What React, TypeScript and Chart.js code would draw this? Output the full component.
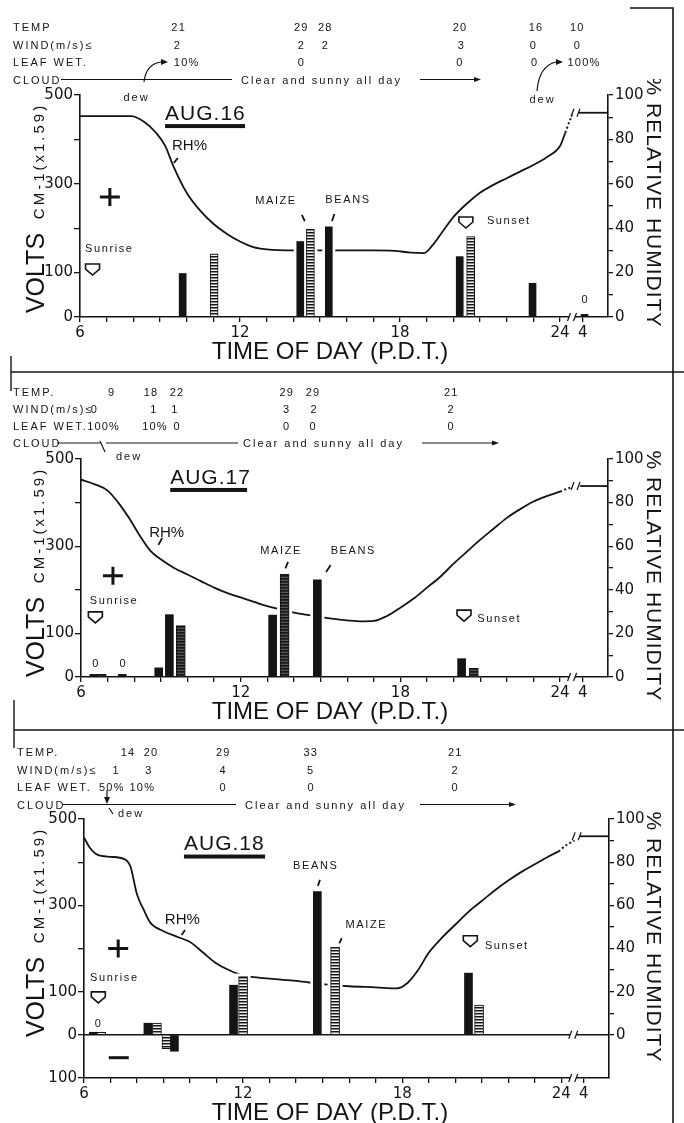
import React, { useEffect, useRef } from 'react';
import { Chart, registerables } from 'chart.js';

Chart.register(...registerables);

const SANS = "'Liberation Sans', Arial, Helvetica, sans-serif";
const WIDE = "'DejaVu Sans', Verdana, sans-serif";
const INK = '#141414';

// ---------------- axes ----------------
const X_MIN = 6;
const X_MAX = 25.8;
const HOUR_TICKS = [6, 7, 8, 9, 10, 11, 12, 13, 14, 15, 16, 17, 18, 19, 20, 21, 22, 23, 24, 24.85];
const HOUR_LABELS = ['6', '', '', '', '', '', '12', '', '', '', '', '', '18', '', '', '', '', '', '24', '4'];
const VOLT_TICKS = [0, 100, 200, 300, 400, 500];
const VOLT_LABELS = ['0', '100', '', '300', '', '500'];
const VOLT_TICKS_NEG = [-100, 0, 100, 200, 300, 400, 500];
const VOLT_LABELS_NEG = ['100', '0', '100', '', '300', '', '500'];
const RH_TICKS = [0, 10, 20, 30, 40, 50, 60, 70, 80, 90, 100];
const RH_LABELS = ['0', '', '20', '', '40', '', '60', '', '80', '', '100'];
const ROW_NAMES_16 = ['TEMP', 'WIND(m/s)≤', 'LEAF WET.', 'CLOUD'];
const ROW_NAMES = ['TEMP.', 'WIND(m/s)≤', 'LEAF WET.', 'CLOUD'];
const CLOUD_TEXT = 'Clear and sunny all day';

// ---------------- AUG. 16 ----------------
const AUG16_RH_HOURS = [6, 7.9, 8.4, 8.85, 9.2, 9.5, 10.0, 10.5, 11.0, 11.5, 12.0, 12.5, 13.0, 14.0, 15.0, 16.0, 17.0, 17.8, 18.4, 18.9, 19.2, 19.6, 20.0, 20.5, 21.0, 21.5, 22.0, 22.5, 23.0, 23.5, 24.0, 24.2];
const AUG16_RH = [90.5, 90.5, 88, 83, 77, 68, 56, 48, 42, 37.5, 34, 31.5, 30.5, 30, 30, 30, 30, 29.8, 29, 28.8, 32, 38.5, 45, 51, 56, 59.5, 62.5, 65.5, 68.5, 72, 77, 83];
const AUG16_DAWN_HOURS = [24.2, 24.35, 24.5];
const AUG16_DAWN = [83, 88, 92];
const AUG16_END_HOURS = [24.65, 25.8];
const AUG16_END = [92, 92];
const AUG16_BEANS_HOURS = [9.85, 14.26, 15.33, 20.24, 22.97, 24.92];
const AUG16_BEANS = [98, 170, 203, 136, 76, 6];
const AUG16_MAIZE_HOURS = [11.03, 14.64, 20.65];
const AUG16_MAIZE = [142, 198, 181];
const AUG16_TEMP = ['21', '29', '28', '20', '16', '10'];
const AUG16_TEMP_AT = [9.7, 14.3, 15.2, 20.25, 23.1, 24.65];
const AUG16_WIND = ['2', '2', '2', '3', '0', '0'];
const AUG16_WIND_AT = [9.65, 14.3, 15.2, 20.3, 23.0, 24.65];
const AUG16_LEAF = ['10%', '0', '0', '0', '100%'];
const AUG16_LEAF_AT = [10.0, 14.3, 20.25, 23.05, 24.9];

// ---------------- AUG. 17 ----------------
const AUG17_RH_HOURS = [6, 6.5, 7.0, 7.4, 7.8, 8.2, 8.6, 9.0, 9.5, 10.0, 10.5, 11.0, 11.5, 12.0, 12.5, 13.0, 13.5, 14.0, 14.5, 15.0, 15.5, 16.0, 16.5, 17.0, 17.5, 18.0, 18.5, 19.0, 19.5, 20.0, 20.5, 21.0, 21.5, 22.0, 22.5, 23.0, 23.5, 24.0];
const AUG17_RH = [90.5, 88.5, 85.5, 80, 73, 65, 58, 54, 50, 47, 44, 41, 38.5, 36.5, 34.5, 32.5, 31, 29.5, 28.5, 27.5, 26.7, 26, 25.5, 25.7, 28, 31.8, 36, 41, 46, 52, 57.5, 63, 68, 73, 77, 80.5, 83, 85];
const AUG17_DAWN_HOURS = [24.0, 24.3, 24.6];
const AUG17_DAWN = [85, 86.5, 87.6];
const AUG17_END_HOURS = [24.75, 25.8];
const AUG17_END = [87.6, 87.6];
const AUG17_BEANS_HOURS = [6.48, 7.55, 8.92, 9.32, 13.2, 14.88, 20.3];
const AUG17_BEANS = [6, 6, 21, 143, 142, 223, 42];
const AUG17_MAIZE_HOURS = [6.78, 9.75, 13.65, 20.76];
const AUG17_MAIZE = [6, 118, 236, 20];
const AUG17_TEMP = ['9', '18', '22', '29', '29', '21'];
const AUG17_TEMP_AT = [7.15, 8.63, 9.61, 13.73, 14.72, 19.91];
const AUG17_WIND = ['0', '1', '1', '3', '2', '2'];
const AUG17_WIND_AT = [6.5, 8.74, 9.53, 13.73, 14.76, 19.91];
const AUG17_LEAF = ['100%', '10%', '0', '0', '0', '0'];
const AUG17_LEAF_AT = [6.85, 8.78, 9.61, 13.73, 14.72, 19.91];

// ---------------- AUG. 18 ----------------
const AUG18_RH_HOURS = [6, 6.2, 6.5, 7.0, 7.5, 7.75, 8.0, 8.25, 8.5, 9.0, 9.5, 10.0, 10.5, 11.0, 11.5, 12.0, 13.0, 14.0, 15.0, 16.0, 17.0, 17.8, 18.2, 18.6, 19.0, 19.5, 20.0, 20.5, 21.0, 21.5, 22.0, 22.5, 23.0, 23.5, 23.9];
const AUG18_RH = [91.5, 87, 83.5, 82.5, 81.5, 78, 65, 58, 52, 48, 45.5, 43, 38, 33, 29.8, 27.5, 26, 25, 23.5, 22.5, 22, 21.5, 24, 30, 38, 45, 51, 57, 62, 67, 71.5, 75.5, 79, 82.5, 85];
const AUG18_DAWN_HOURS = [23.9, 24.2, 24.5];
const AUG18_DAWN = [85, 88, 90];
const AUG18_END_HOURS = [24.65, 25.8];
const AUG18_END = [92, 92];
const AUG18_BEANS_HOURS = [6.35, 8.41, 9.41, 11.64, 14.8, 20.5];
const AUG18_BEANS = [6, 27, -38, 115, 332, 143];
const AUG18_MAIZE_HOURS = [6.65, 8.75, 9.11, 12.0, 15.47, 20.9];
const AUG18_MAIZE = [6, 27, -32, 135, 203, 69];
const AUG18_TEMP = ['14', '20', '29', '33', '21'];
const AUG18_TEMP_AT = [7.66, 8.53, 11.25, 14.55, 20.0];
const AUG18_WIND = ['1', '3', '4', '5', '2'];
const AUG18_WIND_AT = [7.21, 8.45, 11.25, 14.55, 20.0];
const AUG18_LEAF = ['50%', '10%', '0', '0', '0'];
const AUG18_LEAF_AT = [7.05, 8.2, 11.25, 14.57, 20.0];

// ---------------- layout ----------------
const PAD_TOP = 16;
const XH = 52;

type Note =
  | { k: 'text'; h: number; v: number; t: string; size: number; align: CanvasTextAlign; sp?: number }
  | { k: 'tick'; h: number; v: number; h2: number; v2: number }
  | { k: 'plus' | 'minus' | 'marker'; h: number; v: number }
  | { k: 'underline'; h: number; h2: number; v: number };

type Panel = {
  L: number; R: number; T: number; B: number;
  vMin: number; rhMin: number; rTitle: number;
  rhHours: number[]; rh: number[]; dawnHours: number[]; dawn: number[]; endHours: number[]; end: number[];
  beansHours: number[]; beans: number[]; maizeHours: number[]; maize: number[];
  barW: number; dark: boolean; notes: Note[];
  rows: number[]; rowNames: string[]; x0: number;
  temp: string[]; tempAt: number[]; wind: string[]; windAt: number[]; leaf: string[]; leafAt: number[];
  cloudLines: number[][]; cloudTextX: number; cloudArrow: number[];
};

const PANELS: Panel[] = [
  {
    L: 80, R: 608, T: 95, B: 317, vMin: 0, rhMin: 0, rTitle: 107,
    rhHours: AUG16_RH_HOURS, rh: AUG16_RH, dawnHours: AUG16_DAWN_HOURS, dawn: AUG16_DAWN, endHours: AUG16_END_HOURS, end: AUG16_END,
    beansHours: AUG16_BEANS_HOURS, beans: AUG16_BEANS, maizeHours: AUG16_MAIZE_HOURS, maize: AUG16_MAIZE,
    barW: 8, dark: false,
    notes: [
      { k: 'text', h: 9.19, v: 443, t: 'AUG.16', size: 21, align: 'left', sp: 1 },
      { k: 'underline', h: 9.19, h2: 12.19, v: 430 },
      { k: 'text', h: 9.45, v: 376, t: 'RH%', size: 15, align: 'left' },
      { k: 'tick', h: 9.67, v: 358, h2: 9.52, v2: 347 },
      { k: 'plus', h: 7.12, v: 270 },
      { k: 'text', h: 6.19, v: 146, t: 'Sunrise', size: 11, align: 'left', sp: 1.6 },
      { k: 'marker', h: 6.47, v: 108 },
      { k: 'text', h: 13.35, v: 254, t: 'MAIZE', size: 11, align: 'center', sp: 1.6 },
      { k: 'tick', h: 14.32, v: 230, h2: 14.43, v2: 216 },
      { k: 'text', h: 16.05, v: 256, t: 'BEANS', size: 11, align: 'center', sp: 1.6 },
      { k: 'tick', h: 15.54, v: 232, h2: 15.45, v2: 216 },
      { k: 'marker', h: 20.47, v: 214 },
      { k: 'text', h: 21.26, v: 209, t: 'Sunset', size: 11, align: 'left', sp: 1.6 },
      { k: 'text', h: 24.92, v: 31, t: '0', size: 11, align: 'center' },
    ],
    rows: [27, 44.5, 62, 79.5], rowNames: ROW_NAMES_16, x0: 13,
    temp: AUG16_TEMP, tempAt: AUG16_TEMP_AT, wind: AUG16_WIND, windAt: AUG16_WIND_AT, leaf: AUG16_LEAF, leafAt: AUG16_LEAF_AT,
    cloudLines: [[61, 232]], cloudTextX: 241, cloudArrow: [420, 481],
  },
  {
    L: 81, R: 608, T: 459, B: 677, vMin: 0, rhMin: 0, rTitle: 117,
    rhHours: AUG17_RH_HOURS, rh: AUG17_RH, dawnHours: AUG17_DAWN_HOURS, dawn: AUG17_DAWN, endHours: AUG17_END_HOURS, end: AUG17_END,
    beansHours: AUG17_BEANS_HOURS, beans: AUG17_BEANS, maizeHours: AUG17_MAIZE_HOURS, maize: AUG17_MAIZE,
    barW: 9, dark: true,
    notes: [
      { k: 'text', h: 9.35, v: 443, t: 'AUG.17', size: 21, align: 'left', sp: 1 },
      { k: 'underline', h: 9.35, h2: 12.24, v: 429 },
      { k: 'text', h: 8.56, v: 321, t: 'RH%', size: 15, align: 'left' },
      { k: 'tick', h: 9.05, v: 319, h2: 8.91, v2: 303 },
      { k: 'plus', h: 7.2, v: 232 },
      { k: 'text', h: 6.33, v: 167, t: 'Sunrise', size: 11, align: 'left', sp: 1.6 },
      { k: 'marker', h: 6.54, v: 138 },
      { k: 'text', h: 6.54, v: 23, t: '0', size: 11, align: 'center' },
      { k: 'text', h: 7.56, v: 23, t: '0', size: 11, align: 'center' },
      { k: 'text', h: 13.52, v: 282, t: 'MAIZE', size: 11, align: 'center', sp: 1.6 },
      { k: 'tick', h: 13.78, v: 264, h2: 13.68, v2: 249 },
      { k: 'text', h: 16.23, v: 282, t: 'BEANS', size: 11, align: 'center', sp: 1.6 },
      { k: 'tick', h: 15.38, v: 257, h2: 15.21, v2: 241 },
      { k: 'marker', h: 20.39, v: 142 },
      { k: 'text', h: 20.89, v: 127, t: 'Sunset', size: 11, align: 'left', sp: 1.6 },
    ],
    rows: [392, 409, 426, 443], rowNames: ROW_NAMES, x0: 13,
    temp: AUG17_TEMP, tempAt: AUG17_TEMP_AT, wind: AUG17_WIND, windAt: AUG17_WIND_AT, leaf: AUG17_LEAF, leafAt: AUG17_LEAF_AT,
    cloudLines: [[57, 100], [106, 238]], cloudTextX: 243, cloudArrow: [422, 499],
  },
  {
    L: 84, R: 609, T: 819, B: 1078, vMin: -100, rhMin: -20, rTitle: 118,
    rhHours: AUG18_RH_HOURS, rh: AUG18_RH, dawnHours: AUG18_DAWN_HOURS, dawn: AUG18_DAWN, endHours: AUG18_END_HOURS, end: AUG18_END,
    beansHours: AUG18_BEANS_HOURS, beans: AUG18_BEANS, maizeHours: AUG18_MAIZE_HOURS, maize: AUG18_MAIZE,
    barW: 9, dark: false,
    notes: [
      { k: 'text', h: 9.77, v: 428, t: 'AUG.18', size: 21, align: 'left', sp: 1 },
      { k: 'underline', h: 9.77, h2: 12.83, v: 413 },
      { k: 'text', h: 9.05, v: 257, t: 'RH%', size: 15, align: 'left' },
      { k: 'tick', h: 9.81, v: 243, h2: 9.68, v2: 231 },
      { k: 'plus', h: 7.29, v: 200 },
      { k: 'minus', h: 7.31, v: -53 },
      { k: 'text', h: 6.23, v: 125, t: 'Sunrise', size: 11, align: 'left', sp: 1.6 },
      { k: 'marker', h: 6.54, v: 88 },
      { k: 'text', h: 6.52, v: 18, t: '0', size: 11, align: 'center' },
      { k: 'text', h: 14.74, v: 384, t: 'BEANS', size: 11, align: 'center', sp: 1.6 },
      { k: 'tick', h: 14.9, v: 359, h2: 14.82, v2: 345 },
      { k: 'text', h: 16.65, v: 247, t: 'MAIZE', size: 11, align: 'center', sp: 1.6 },
      { k: 'tick', h: 15.72, v: 224, h2: 15.63, v2: 212 },
      { k: 'marker', h: 20.57, v: 218 },
      { k: 'text', h: 21.12, v: 199, t: 'Sunset', size: 11, align: 'left', sp: 1.6 },
    ],
    rows: [752, 769.5, 787, 804.5], rowNames: ROW_NAMES, x0: 17,
    temp: AUG18_TEMP, tempAt: AUG18_TEMP_AT, wind: AUG18_WIND, windAt: AUG18_WIND_AT, leaf: AUG18_LEAF, leafAt: AUG18_LEAF_AT,
    cloudLines: [[63, 236]], cloudTextX: 245, cloudArrow: [420, 516],
  },
];

function makePattern(dark: boolean): CanvasPattern | string {
  const c = document.createElement('canvas');
  c.width = 4;
  c.height = 3;
  const g = c.getContext('2d');
  if (!g) return '#777';
  g.fillStyle = dark ? '#555' : '#eeeeee';
  g.fillRect(0, 0, 4, 3);
  g.fillStyle = '#161616';
  g.fillRect(0, 0, 4, 1);
  g.fillStyle = dark ? '#2a2a2a' : '#8a8a8a';
  g.fillRect(0, 1, 4, 1);
  return g.createPattern(c, 'repeat') || '#777';
}

function drawBreak(ctx: CanvasRenderingContext2D, x: number, y: number) {
  ctx.save();
  ctx.fillStyle = '#fff';
  ctx.fillRect(x - 3, y - 3, 6, 6);
  ctx.strokeStyle = INK;
  ctx.lineWidth = 1.2;
  ctx.beginPath();
  ctx.moveTo(x - 4.5, y + 4);
  ctx.lineTo(x - 1.5, y - 4);
  ctx.moveTo(x + 1.5, y + 4);
  ctx.lineTo(x + 4.5, y - 4);
  ctx.stroke();
  ctx.restore();
}

function makePlugin(p: Panel) {
  return {
    id: 'figureNotes',
    beforeDatasetsDraw(chart: any) {
      chart.$halo = false;
    },
    beforeDatasetDraw(chart: any, args: any) {
      if (args.meta.type !== 'bar' || chart.$halo) return;
      chart.$halo = true;
      const ctx = chart.ctx;
      ctx.save();
      ctx.fillStyle = '#fff';
      chart.getSortedVisibleDatasetMetas().forEach((m: any) => {
        if (m.type !== 'bar') return;
        m.data.forEach((el: any) => {
          const { x, y, base, width } = el.getProps(['x', 'y', 'base', 'width'], true);
          const top = Math.min(y, base);
          const bot = Math.max(y, base);
          ctx.fillRect(x - width / 2 - 3, top - 3, width + 6, bot - top + 1);
        });
      });
      ctx.restore();
    },
    afterDatasetsDraw(chart: any) {
      const ctx: CanvasRenderingContext2D = chart.ctx;
      const xs = chart.scales.x;
      const ys = chart.scales.y;
      const rs = chart.scales.rh;
      const X = (h: number) => xs.getPixelForValue(h);
      const Y = (v: number) => ys.getPixelForValue(v);
      const area = chart.chartArea;
      ctx.save();
      if (p.vMin < 0) {
        ctx.strokeStyle = INK;
        ctx.lineWidth = 1.5;
        ctx.beginPath();
        ctx.moveTo(area.left, Y(0));
        ctx.lineTo(area.right, Y(0));
        ctx.stroke();
        drawBreak(ctx, X(24.45), Y(0));
      }
      drawBreak(ctx, X(24.45), area.bottom);
      drawBreak(ctx, X(24.58), rs.getPixelForValue(p.end[0]));
      for (const n of p.notes) {
        ctx.fillStyle = INK;
        ctx.strokeStyle = INK;
        if (n.k === 'text') {
          ctx.font = `${n.size}px ${SANS}`;
          (ctx as any).letterSpacing = `${n.sp ?? 0}px`;
          ctx.textAlign = n.align;
          ctx.textBaseline = 'alphabetic';
          ctx.fillText(n.t, X(n.h), Y(n.v));
          (ctx as any).letterSpacing = '0px';
        } else if (n.k === 'tick') {
          ctx.lineWidth = 1.8;
          ctx.beginPath();
          ctx.moveTo(X(n.h), Y(n.v));
          ctx.lineTo(X(n.h2), Y(n.v2));
          ctx.stroke();
        } else if (n.k === 'underline') {
          ctx.fillRect(X(n.h), Y(n.v) - 2, X(n.h2) - X(n.h), 4);
        } else if (n.k === 'plus' || n.k === 'minus') {
          const x = X(n.h);
          const y = Y(n.v);
          ctx.lineWidth = 3;
          ctx.beginPath();
          ctx.moveTo(x - 10, y);
          ctx.lineTo(x + 10, y);
          if (n.k === 'plus') {
            ctx.moveTo(x, y - 9);
            ctx.lineTo(x, y + 9);
          }
          ctx.stroke();
        } else if (n.k === 'marker') {
          const x = X(n.h);
          const y = Y(n.v);
          ctx.beginPath();
          ctx.moveTo(x - 7, y - 5);
          ctx.lineTo(x + 7, y - 5);
          ctx.lineTo(x + 7, y);
          ctx.lineTo(x, y + 6);
          ctx.lineTo(x - 7, y);
          ctx.closePath();
          ctx.fillStyle = '#fff';
          ctx.fill();
          ctx.lineWidth = 1.6;
          ctx.stroke();
        }
      }
      ctx.restore();
    },
    afterDraw(chart: any) {
      const ctx: CanvasRenderingContext2D = chart.ctx;
      const area = chart.chartArea;
      ctx.save();
      ctx.fillStyle = INK;
      ctx.textAlign = 'center';
      ctx.textBaseline = 'alphabetic';
      ctx.save();
      ctx.translate(44, area.top + 178);
      ctx.rotate(-Math.PI / 2);
      ctx.font = `25px ${SANS}`;
      ctx.fillText('VOLTS', 0, 0);
      ctx.restore();
      ctx.save();
      ctx.translate(44, area.top + 66);
      ctx.rotate(-Math.PI / 2);
      ctx.font = `15px ${SANS}`;
      (ctx as any).letterSpacing = '3px';
      ctx.fillText('CM-1(x1.59)', 0, 0);
      ctx.restore();
      ctx.save();
      ctx.translate(647, area.top + p.rTitle);
      ctx.rotate(Math.PI / 2);
      ctx.font = `21px ${SANS}`;
      (ctx as any).letterSpacing = '1px';
      ctx.fillText('% RELATIVE HUMIDITY', 0, 0);
      ctx.restore();
      ctx.font = `24px ${SANS}`;
      ctx.textBaseline = 'middle';
      ctx.fillText('TIME OF DAY (P.D.T.)', 330, area.bottom + 35);
      ctx.restore();
    },
  };
}

function buildConfig(p: Panel): any {
  const pts = (xs: number[], ys: number[]) => xs.map((x, i) => ({ x, y: ys[i] }));
  const pattern = makePattern(p.dark);
  const voltTicks = p.vMin < 0 ? VOLT_TICKS_NEG : VOLT_TICKS;
  const voltLabels = p.vMin < 0 ? VOLT_LABELS_NEG : VOLT_LABELS;
  const grid = (len: number) => ({ display: true, drawOnChartArea: false, drawTicks: true, tickLength: len, color: INK, lineWidth: 1.3, offset: false });
  const border = { display: true, color: INK, width: 1.6 };
  return {
    type: 'line',
    data: {
      datasets: [
        { type: 'line', label: 'RH%', data: pts(p.rhHours, p.rh), yAxisID: 'rh', borderColor: INK, borderWidth: 1.8, pointRadius: 0, fill: false, cubicInterpolationMode: 'monotone', order: 10 },
        { type: 'line', label: 'RH% (dawn)', data: pts(p.dawnHours, p.dawn), yAxisID: 'rh', borderColor: INK, borderWidth: 2, borderDash: [2, 2.5], pointRadius: 0, fill: false, tension: 0.3, order: 10 },
        { type: 'line', label: 'RH% (04:00)', data: pts(p.endHours, p.end), yAxisID: 'rh', borderColor: INK, borderWidth: 1.8, pointRadius: 0, fill: false, order: 10 },
        { type: 'bar', label: 'MAIZE', data: pts(p.maizeHours, p.maize), yAxisID: 'y', backgroundColor: pattern, borderColor: INK, borderWidth: 1, barThickness: p.barW, grouped: false, order: 2 },
        { type: 'bar', label: 'BEANS', data: pts(p.beansHours, p.beans), yAxisID: 'y', backgroundColor: INK, borderWidth: 0, barThickness: p.barW - 1, grouped: false, order: 1 },
      ],
    },
    options: {
      animation: false,
      responsive: false,
      maintainAspectRatio: false,
      devicePixelRatio: 1,
      layout: { padding: { top: PAD_TOP, left: 0, right: 0, bottom: 0 } },
      plugins: { legend: { display: false }, tooltip: { enabled: false }, title: { display: false } },
      scales: {
        x: {
          type: 'linear', position: 'bottom', min: X_MIN, max: X_MAX, offset: false,
          afterBuildTicks: (s: any) => { s.ticks = HOUR_TICKS.map((value) => ({ value })); },
          afterFit: (s: any) => { s.height = XH; },
          ticks: { autoSkip: false, maxRotation: 0, padding: 2, color: INK, font: { family: WIDE, size: 15 }, callback: (v: number) => HOUR_LABELS[HOUR_TICKS.indexOf(v)] ?? '' },
          grid: grid(5), border,
        },
        y: {
          type: 'linear', position: 'left', min: p.vMin, max: 500,
          afterBuildTicks: (s: any) => { s.ticks = voltTicks.map((value) => ({ value })); },
          afterFit: (s: any) => { s.width = p.L; },
          ticks: { autoSkip: false, padding: 1, color: INK, font: { family: WIDE, size: 15 }, callback: (v: number) => voltLabels[voltTicks.indexOf(v)] ?? '' },
          grid: grid(6), border,
        },
        rh: {
          type: 'linear', position: 'right', min: p.rhMin, max: 100,
          afterBuildTicks: (s: any) => { s.ticks = RH_TICKS.map((value) => ({ value })); },
          afterFit: (s: any) => { s.width = 684 - p.R; },
          ticks: { autoSkip: false, padding: 2, color: INK, font: { family: WIDE, size: 15 }, callback: (v: number) => RH_LABELS[RH_TICKS.indexOf(v)] ?? '' },
          grid: grid(5), border,
        },
      },
    },
    plugins: [makePlugin(p)],
  };
}

function PanelChart({ p }: { p: Panel }) {
  const ref = useRef<HTMLCanvasElement>(null);
  useEffect(() => {
    if (!ref.current) return;
    const chart = new Chart(ref.current, buildConfig(p));
    return () => chart.destroy();
  }, [p]);
  const top = p.T - PAD_TOP;
  const h = p.B - p.T + PAD_TOP + XH;
  return (
    <canvas ref={ref} width={684} height={h} style={{ position: 'absolute', left: 0, top, width: 684, height: h }} />
  );
}

function Header({ p }: { p: Panel }) {
  const hx = (h: number) => p.L + ((h - X_MIN) * (p.R - p.L)) / (X_MAX - X_MIN);
  const labelProps = { fontFamily: SANS, fontSize: 11, fill: INK, style: { letterSpacing: '2px' } };
  const cellProps = { fontFamily: SANS, fontSize: 11, fill: INK, style: { letterSpacing: '1.2px' } };
  const [yT, yW, yL, yC] = p.rows;
  const cells = (vals: string[], at: number[], y: number, key: string) =>
    vals.map((s, i) => (
      <text key={key + i} x={hx(at[i])} y={y + 4} textAnchor="middle" {...cellProps}>{s}</text>
    ));
  return (
    <g>
      {p.rowNames.map((n, i) => (
        <text key={'r' + i} x={p.x0} y={p.rows[i] + 4} {...labelProps}>{n}</text>
      ))}
      {cells(p.temp, p.tempAt, yT, 't')}
      {cells(p.wind, p.windAt, yW, 'w')}
      {cells(p.leaf, p.leafAt, yL, 'l')}
      {p.cloudLines.map((s, i) => (
        <line key={'c' + i} x1={s[0]} x2={s[1]} y1={yC} y2={yC} stroke={INK} strokeWidth={1} />
      ))}
      <text x={p.cloudTextX} y={yC + 4} {...labelProps}>{CLOUD_TEXT}</text>
      <line x1={p.cloudArrow[0]} x2={p.cloudArrow[1] - 4} y1={yC} y2={yC} stroke={INK} strokeWidth={1} />
      <polygon points={`${p.cloudArrow[1]},${yC} ${p.cloudArrow[1] - 7},${yC - 2.5} ${p.cloudArrow[1] - 7},${yC + 2.5}`} fill={INK} />
    </g>
  );
}

export default function App() {
  const dew = { fontFamily: SANS, fontSize: 11, fill: INK, textAnchor: 'middle' as const, style: { letterSpacing: '2px' } };
  return (
    <div style={{ position: 'absolute', left: 0, top: 0, width: 684, height: 1123, overflow: 'hidden', background: '#fff' }}>
      {PANELS.map((p, i) => (
        <PanelChart key={i} p={p} />
      ))}
      <svg width={684} height={1123} style={{ position: 'absolute', left: 0, top: 0, pointerEvents: 'none' }}>
        {PANELS.map((p, i) => (
          <Header key={i} p={p} />
        ))}
        <polyline points="630,8 673,8 673,1123" fill="none" stroke={INK} strokeWidth={1.6} />
        <line x1={11} y1={372} x2={684} y2={372} stroke={INK} strokeWidth={1.4} />
        <line x1={11} y1={356} x2={11} y2={391} stroke={INK} strokeWidth={1.4} />
        <line x1={14} y1={730} x2={684} y2={730} stroke={INK} strokeWidth={1.4} />
        <line x1={14} y1={700} x2={14} y2={748} stroke={INK} strokeWidth={1.4} />
        <text x={136.5} y={100.5} {...dew}>dew</text>
        <path d="M144 82 Q146 64 161 62" fill="none" stroke={INK} strokeWidth={1.2} />
        <polygon points="168,62 161,59 161,65" fill={INK} />
        <text x={542.5} y={103} {...dew}>dew</text>
        <path d="M537 91 Q539 66 556 62" fill="none" stroke={INK} strokeWidth={1.2} />
        <polygon points="563,62 556,59 556,65" fill={INK} />
        <line x1={100} y1={441} x2={105} y2={452} stroke={INK} strokeWidth={1.2} />
        <text x={129} y={460} {...dew}>dew</text>
        <line x1={107} y1={790} x2={107} y2={798} stroke={INK} strokeWidth={1.2} />
        <polygon points="107,804 104,797 110,797" fill={INK} />
        <line x1={109} y1={808} x2={113} y2={814} stroke={INK} strokeWidth={1.2} />
        <text x={131} y={817} {...dew}>dew</text>
      </svg>
    </div>
  );
}
